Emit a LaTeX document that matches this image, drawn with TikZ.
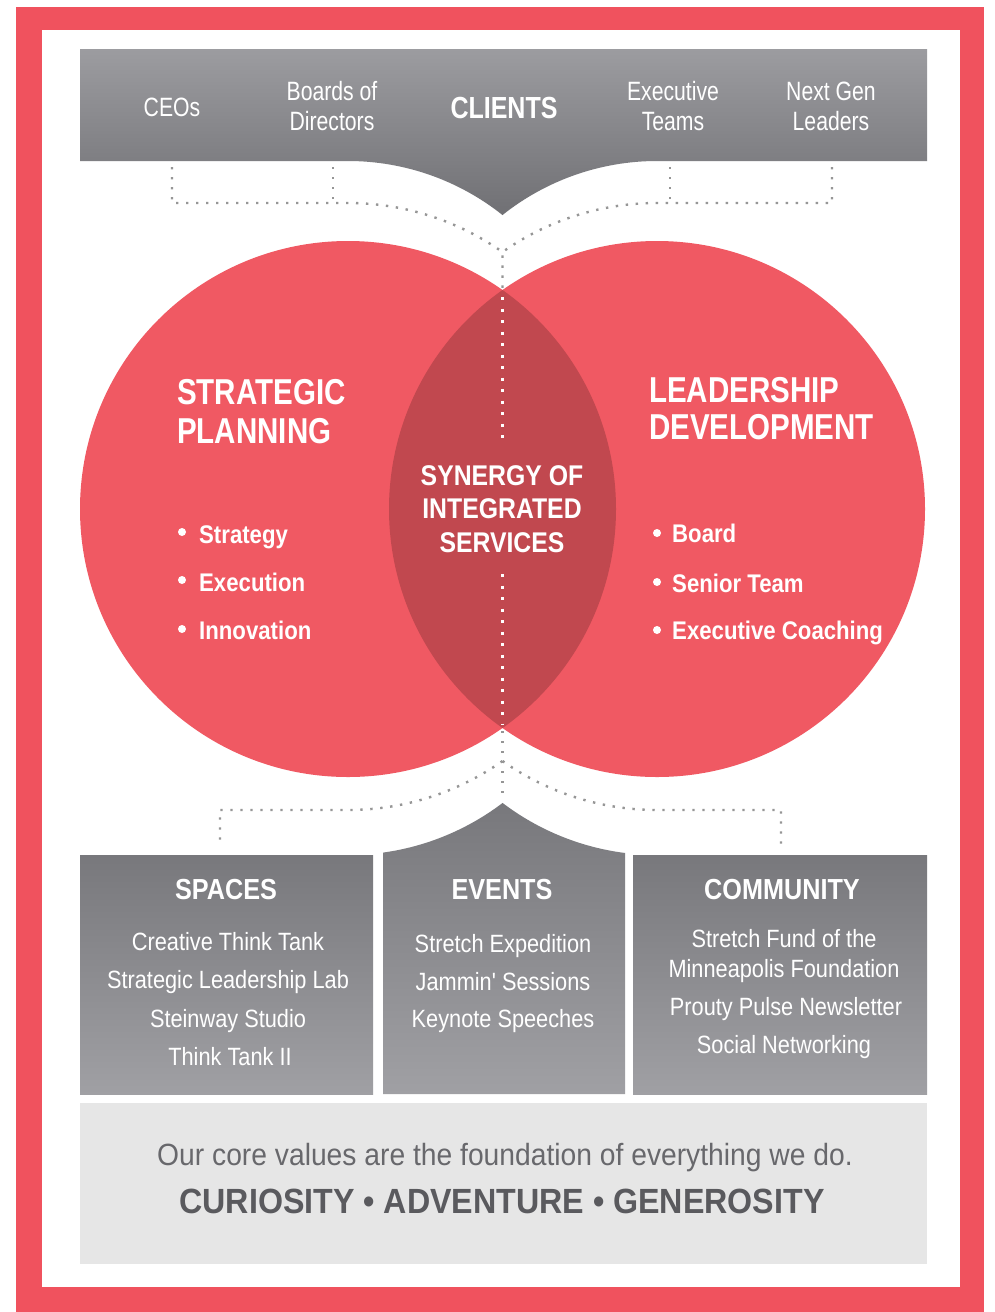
\documentclass[tikz,border=0pt]{standalone}
\usepackage{fontspec}
\setmainfont{Liberation Sans}
\newfontfamily\fsA{Liberation Sans}[FakeStretch=0.80]
\newfontfamily\fsB{Liberation Sans}[FakeStretch=0.82]
\newfontfamily\fsC{Liberation Sans}[FakeStretch=0.87]
\newfontfamily\fsD{Liberation Sans}[FakeStretch=0.92]
\usetikzlibrary{calc}

\definecolor{framered}{RGB}{240,82,94}
\definecolor{vennred}{RGB}{240,89,99}
\definecolor{lensred}{RGB}{193,72,79}
\definecolor{barlight}{RGB}{156,156,160}
\definecolor{bardark}{RGB}{112,112,116}
\definecolor{boxdark}{RGB}{120,120,124}
\definecolor{boxlight}{RGB}{160,160,164}
\definecolor{footbg}{RGB}{230,230,230}
\definecolor{foottext}{RGB}{104,104,108}
\definecolor{foothead}{RGB}{90,90,94}
\definecolor{dotgrey}{RGB}{150,150,150}

\begin{document}
\begin{tikzpicture}[x=1pt,y=-1pt,
  toplbl/.style={anchor=base, inner sep=0pt, text=white, font=\fsA\fontsize{26.5}{30}\selectfont},
  clientlbl/.style={anchor=base, inner sep=0pt, text=white, font=\fsB\bfseries\fontsize{30.5}{34}\selectfont},
  vhead/.style={anchor=base west, inner sep=0pt, text=white, font=\fsB\bfseries\fontsize{36}{40}\selectfont},
  vitem/.style={anchor=base west, inner sep=0pt, text=white, font=\fsC\bfseries\fontsize{25.5}{30}\selectfont},
  bdot/.style={circle, fill=white, inner sep=0pt, minimum size=8pt},
  synlbl/.style={anchor=base, inner sep=0pt, text=white, font=\fsC\bfseries\fontsize{28.5}{32}\selectfont},
  bhead/.style={anchor=base, inner sep=0pt, text=white, font=\fsC\bfseries\fontsize{29}{32}\selectfont},
  bitem/.style={anchor=base, inner sep=0pt, text=white, font=\fsC\fontsize{25}{28}\selectfont},
  footA/.style={anchor=base, inner sep=0pt, text=foottext, font=\fsD\fontsize{30.7}{34}\selectfont},
  footB/.style={anchor=base, inner sep=0pt, text=foothead, font=\fsD\bfseries\fontsize{35}{40}\selectfont},
  dotline/.style={dotgrey, line width=2.4pt, dash pattern=on 2.4pt off 7.6pt},
  lensdots/.style={white, line width=3pt, dash pattern=on 3pt off 8.5pt},
  shadebar/.style={top color=barlight, bottom color=bardark},
  shadebox/.style={top color=boxdark, bottom color=boxlight}
]
\useasboundingbox (0,0) rectangle (995,1312);
\fill[white] (0,0) rectangle (995,1312);

% red frame
\fill[framered] (16,7) rectangle (984,1312);
\fill[white] (42,30) rectangle (960,1287);

% client bar with its pointed notch (two tangent arcs meeting at the tip)
\shade[shadebar]
  (80,49) -- (927,49) -- (927,161) -- (657,161)
  arc[start angle=90, end angle=128.54, radius=248pt]
  arc[start angle=51.46, end angle=90, radius=248pt]
  -- (80,161) -- cycle;

\node[toplbl] (ceo) at (172,116) {CEOs};
\node[toplbl] (boardsA) at (332,100) {Boards of};
\node[toplbl] (boardsB) at (332,130) {Directors};
\node[clientlbl] (clients) at (504,118) {CLIENTS};
\node[toplbl] (execA) at (673,100) {Executive};
\node[toplbl] (execB) at (673,130) {Teams};
\node[toplbl] (nextA) at (831,100) {Next Gen};
\node[toplbl] (nextB) at (831,130) {Leaders};

% Venn circles
\fill[vennred] (348,509) circle[radius=268pt];
\fill[vennred] (657,509) circle[radius=268pt];
\begin{scope}
  \clip (348,509) circle[radius=268pt];
  \fill[lensred] (657,509) circle[radius=268pt];
\end{scope}

\coordinate (ceoDrop) at (172,167);
\coordinate (boardsDrop) at (333,167);
\coordinate (execDrop) at (670,167);
\coordinate (nextDrop) at (832,167);
\coordinate (topMeet) at (502.5,290);
\coordinate (lensTopA) at (502.5,297);
\coordinate (lensTopB) at (502.5,442);
\coordinate (lensBotA) at (502.5,574);
\coordinate (lensBotB) at (502.5,724);
\coordinate (botMeet) at (502.5,731);
\coordinate (botEnd) at (502.5,800);
\coordinate (botSplit) at (502.5,761);
\coordinate (spacesDrop) at (220,845);
\coordinate (communityDrop) at (781,845);

% dotted links from the clients down to the circles
\draw[dotline] (ceoDrop) -- (172,203) -- (348,203)
  arc[start angle=90, end angle=54.8, radius=268pt] -- (topMeet);
\draw[dotline] (nextDrop) -- (832,203) -- (657,203)
  arc[start angle=90, end angle=125.2, radius=268pt];
\draw[dotline] (boardsDrop) -- (333,203);
\draw[dotline] (execDrop) -- (670,203);

% dotted line through the overlap
\draw[lensdots] (lensTopA) -- (lensTopB);
\draw[lensdots] (lensBotA) -- (lensBotB);

% dotted links from the circles down to the boxes
\draw[dotline] (botMeet) -- (botEnd);
\draw[dotline] (botSplit) arc[start angle=-54.8, end angle=-90, radius=268pt]
  -- (220,810) -- (spacesDrop);
\draw[dotline] (botSplit) arc[start angle=-125.2, end angle=-90, radius=268pt]
  -- (781,810) -- (communityDrop);

% circle texts
\node[vhead] (spA) at (177,404) {STRATEGIC};
\node[vhead] (spB) at (177,443) {PLANNING};
\node[bdot] (d1) at (182,532) {};
\node[bdot] (d2) at (182,580) {};
\node[bdot] (d3) at (182,629) {};
\node[vitem] (i1) at (199,543) {Strategy};
\node[vitem] (i2) at (199,591) {Execution};
\node[vitem] (i3) at (199,639) {Innovation};

\node[vhead] (ldA) at (649,402) {LEADERSHIP};
\node[vhead] (ldB) at (649,439) {DEVELOPMENT};
\node[bdot] (d4) at (657,533) {};
\node[bdot] (d5) at (657,582) {};
\node[bdot] (d6) at (657,630) {};
\node[vitem] (i4) at (672,542) {Board};
\node[vitem] (i5) at (672,592) {Senior Team};
\node[vitem] (i6) at (672,639) {Executive Coaching};

\node[synlbl] (synA) at (502,485) {SYNERGY OF};
\node[synlbl] (synB) at (502,518) {INTEGRATED};
\node[synlbl] (synC) at (502,552) {SERVICES};

% service boxes
\shade[shadebox] (80,855) rectangle (373,1094);
\shade[shadebox]
  (383,1094) -- (383,852.6)
  arc[start angle=-82.13, end angle=-52.77, radius=255.5pt]
  arc[start angle=-127.23, end angle=-97.19, radius=255.5pt]
  -- (625,1094) -- cycle;
\shade[shadebox] (633,855) rectangle (927,1094);

\node[bhead] (spaces) at (226,899) {SPACES};
\node[bitem] (s1) at (228,950) {Creative Think Tank};
\node[bitem] (s2) at (228,988) {Strategic Leadership Lab};
\node[bitem] (s3) at (228,1027) {Steinway Studio};
\node[bitem] (s4) at (230,1065) {Think Tank II};

\node[bhead] (events) at (502,899) {EVENTS};
\node[bitem] (e1) at (503,952) {Stretch Expedition};
\node[bitem] (e2) at (503,990) {Jammin' Sessions};
\node[bitem] (e3) at (503,1027) {Keynote Speeches};

\node[bhead] (community) at (782,899) {COMMUNITY};
\node[bitem] (c1) at (784,947) {Stretch Fund of the};
\node[bitem] (c2) at (784,977) {Minneapolis Foundation};
\node[bitem] (c3) at (786,1015) {Prouty Pulse Newsletter};
\node[bitem] (c4) at (784,1053) {Social Networking};

% core values footer
\fill[footbg] (80,1103) rectangle (927,1264);
\node[footA] (valuesA) at (505,1165) {Our core values are the foundation of everything we do.};
\node[footB] (valuesB) at (502,1213) {CURIOSITY • ADVENTURE • GENEROSITY};
\end{tikzpicture}
\end{document}
